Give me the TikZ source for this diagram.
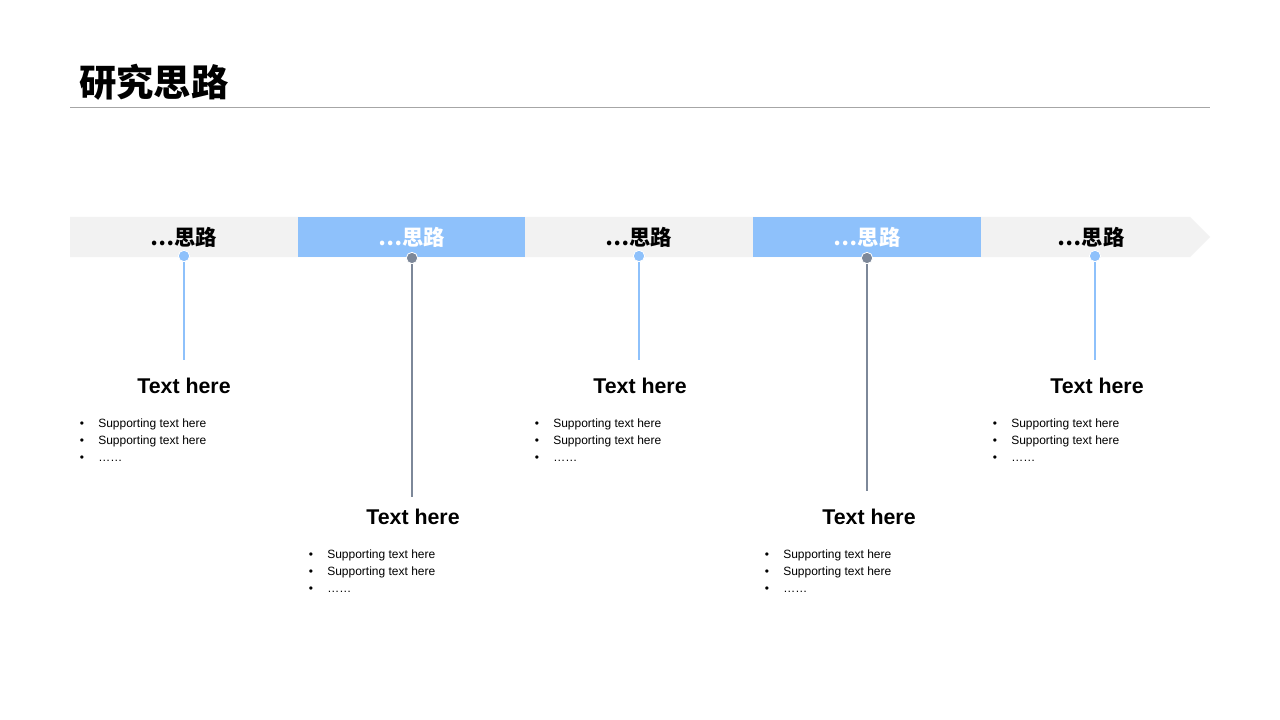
\documentclass[tikz,border=0pt]{standalone}
\usepackage{fontspec}
\setmainfont{Liberation Sans}
\newfontfamily\cjk{Noto Sans CJK SC}
\usepackage{xcolor}
\usetikzlibrary{positioning}

\definecolor{faixacinza}{HTML}{F2F2F2}
\definecolor{faixaazul}{HTML}{8EC1FB}
\definecolor{hasteazul}{HTML}{8EC1FB}
\definecolor{hastecinza}{HTML}{7D8899}
\definecolor{linhacinza}{HTML}{A6A6A6}

\tikzset{
  etapa/.style={font=\cjk\bfseries\fontsize{16pt}{18pt}\selectfont, inner sep=0pt},
  titulo/.style={font=\bfseries\fontsize{16pt}{18pt}\selectfont, inner sep=0pt},
  item/.style={font=\fontsize{9pt}{11pt}\selectfont, anchor=base west, inner sep=0pt},
  marca/.style={font=\fontsize{9pt}{11pt}\selectfont, anchor=base, inner sep=0pt},
  pontoazul/.style={circle, fill=hasteazul, draw=white, line width=0.6pt, minimum size=8.5pt, inner sep=0pt},
  pontocinza/.style={circle, fill=hastecinza, draw=white, line width=0.6pt, minimum size=8.5pt, inner sep=0pt},
}

\begin{document}
\begin{tikzpicture}[x=0.75pt,y=-0.75pt]

\useasboundingbox[fill=white] (0,0) rectangle (1280,720);

% título
\node[anchor=west, inner sep=0pt, font=\cjk\bfseries\fontsize{28pt}{30pt}\selectfont] (cabecalho) at (79,82) {研究思路};
\coordinate (reguaA) at (70,108);
\coordinate (reguaB) at (1210,108);
\draw[linhacinza, line width=0.75pt] (reguaA) -- (reguaB);

% faixa com seta
\fill[faixacinza] (70,217) -- (1190,217) -- (1210,237) -- (1190,257) -- (70,257) -- cycle;
\fill[faixaazul] (298,217) rectangle (525,257);
\fill[faixaazul] (753,217) rectangle (981,257);

% etapas
\node[etapa] (etapa1) at (184,237) {…思路};
\node[etapa, text=white] (etapa2) at (412,237) {…思路};
\node[etapa] (etapa3) at (639,237) {…思路};
\node[etapa, text=white] (etapa4) at (867,237) {…思路};
\node[etapa] (etapa5) at (1091,237) {…思路};

% hastes
\coordinate (fim1) at (184,360);
\coordinate (fim2) at (412,497);
\coordinate (fim3) at (639,360);
\coordinate (fim4) at (867,491);
\coordinate (fim5) at (1095,360);

\node[pontoazul] (ponto1) at (184,256) {};
\node[pontocinza] (ponto2) at (412,258) {};
\node[pontoazul] (ponto3) at (639,256) {};
\node[pontocinza] (ponto4) at (867,258) {};
\node[pontoazul] (ponto5) at (1095,256) {};

\draw[hasteazul, line width=1.5pt] (ponto1) -- (fim1);
\draw[hastecinza, line width=1.5pt] (ponto2) -- (fim2);
\draw[hasteazul, line width=1.5pt] (ponto3) -- (fim3);
\draw[hastecinza, line width=1.5pt] (ponto4) -- (fim4);
\draw[hasteazul, line width=1.5pt] (ponto5) -- (fim5);

% textos
\node[titulo] (texto1) at (184,386) {Text here};
\node[titulo] (texto2) at (413,517) {Text here};
\node[titulo] (texto3) at (640,386) {Text here};
\node[titulo] (texto4) at (869,517) {Text here};
\node[titulo] (texto5) at (1097,386) {Text here};

% listas
\node[marca] (m1a) at (82,427) {•};
\node[item] (i1a) at (98,427) {Supporting text here};
\node[marca] (m1b) at (82,444) {•};
\node[item] (i1b) at (98,444) {Supporting text here};
\node[marca] (m1c) at (82,461) {•};
\node[item] (i1c) at (98,461) {……};

\node[marca] (m2a) at (311,558) {•};
\node[item] (i2a) at (327,558) {Supporting text here};
\node[marca] (m2b) at (311,575) {•};
\node[item] (i2b) at (327,575) {Supporting text here};
\node[marca] (m2c) at (311,592) {•};
\node[item] (i2c) at (327,592) {……};

\node[marca] (m3a) at (537,427) {•};
\node[item] (i3a) at (553,427) {Supporting text here};
\node[marca] (m3b) at (537,444) {•};
\node[item] (i3b) at (553,444) {Supporting text here};
\node[marca] (m3c) at (537,461) {•};
\node[item] (i3c) at (553,461) {……};

\node[marca] (m4a) at (767,558) {•};
\node[item] (i4a) at (783,558) {Supporting text here};
\node[marca] (m4b) at (767,575) {•};
\node[item] (i4b) at (783,575) {Supporting text here};
\node[marca] (m4c) at (767,592) {•};
\node[item] (i4c) at (783,592) {……};

\node[marca] (m5a) at (995,427) {•};
\node[item] (i5a) at (1011,427) {Supporting text here};
\node[marca] (m5b) at (995,444) {•};
\node[item] (i5b) at (1011,444) {Supporting text here};
\node[marca] (m5c) at (995,461) {•};
\node[item] (i5c) at (1011,461) {……};

\end{tikzpicture}
\end{document}
